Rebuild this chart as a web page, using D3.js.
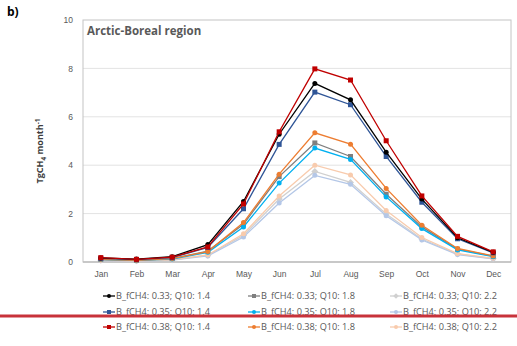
<!DOCTYPE html>
<html>
<head>
<meta charset="utf-8">
<script src="https://cdn.jsdelivr.net/npm/d3@7"></script>
<style>
  html, body { margin: 0; padding: 0; background: #fff; }
  svg { display: block; font-family: "Open Sans", "Liberation Sans", sans-serif; }
</style>
</head>
<body>
<svg id="chart" width="517" height="346"></svg>
<script>
// Monthly methane flux, Arctic-Boreal region
const months = ["Jan","Feb","Mar","Apr","May","Jun","Jul","Aug","Sep","Oct","Nov","Dec"];
const yTicks = [0, 2, 4, 6, 8, 10];

const seriesNames = [
  "B_fCH4: 0.33; Q10: 1.4", "B_fCH4: 0.33; Q10: 1.8", "B_fCH4: 0.33; Q10: 2.2",
  "B_fCH4: 0.35; Q10: 1.4", "B_fCH4: 0.35; Q10: 1.8", "B_fCH4: 0.35; Q10: 2.2",
  "B_fCH4: 0.38; Q10: 1.4", "B_fCH4: 0.38; Q10: 1.8", "B_fCH4: 0.38; Q10: 2.2"
];
const seriesColors = [
  "#000000", "#7f7f7f", "#d0d0d0",
  "#2f5597", "#00b0f0", "#b4c7e7",
  "#c00000", "#ed7d31", "#f8cbad"
];
const seriesMarkers = [
  "circle", "square", "diamond",
  "square", "circle", "circle",
  "square", "circle", "circle"
];

const f033q14 = [0.17, 0.12, 0.22, 0.72, 2.50, 5.28, 7.38, 6.70, 4.54, 2.60, 1.00, 0.40];
const f033q18 = [0.11, 0.07, 0.14, 0.45, 1.56, 3.53, 4.92, 4.36, 2.80, 1.45, 0.53, 0.24];
const f033q22 = [0.07, 0.05, 0.09, 0.28, 1.10, 2.60, 3.74, 3.29, 1.98, 0.95, 0.33, 0.14];
const f035q14 = [0.15, 0.10, 0.18, 0.60, 2.20, 4.86, 7.02, 6.50, 4.36, 2.47, 0.96, 0.38];
const f035q18 = [0.10, 0.07, 0.12, 0.40, 1.45, 3.26, 4.71, 4.24, 2.69, 1.38, 0.50, 0.22];
const f035q22 = [0.06, 0.04, 0.08, 0.25, 1.03, 2.44, 3.58, 3.21, 1.91, 0.91, 0.31, 0.13];
const f038q14 = [0.18, 0.11, 0.20, 0.62, 2.40, 5.38, 7.98, 7.52, 5.01, 2.73, 1.06, 0.42];
const f038q18 = [0.11, 0.07, 0.14, 0.43, 1.63, 3.63, 5.34, 4.87, 3.04, 1.52, 0.56, 0.25];
const f038q22 = [0.07, 0.05, 0.09, 0.29, 1.17, 2.73, 4.00, 3.60, 2.13, 1.01, 0.35, 0.15];

const seriesValues = [f033q14, f033q18, f033q22, f035q14, f035q18, f035q22, f038q14, f038q18, f038q22];
const series = seriesNames.map((name, i) => ({
  name, color: seriesColors[i], marker: seriesMarkers[i], values: seriesValues[i]
}));

const svg = d3.select("#chart");
const plot = { left: 83, right: 511, top: 20, bottom: 262 };

const x = d3.scalePoint().domain(months).range([plot.left + 17.8, plot.right - 17.8]);
const y = d3.scaleLinear().domain([0, 10]).range([plot.bottom, plot.top]);

// Gridlines
svg.append("g").selectAll("line").data(yTicks.filter(t => t > 0 && t < 10)).join("line")
  .attr("x1", plot.left).attr("x2", plot.right)
  .attr("y1", d => y(d)).attr("y2", d => y(d))
  .attr("stroke", "#e3e3e3").attr("stroke-width", 1);

// Plot frame
svg.append("rect")
  .attr("x", plot.left).attr("y", plot.top)
  .attr("width", plot.right - plot.left).attr("height", plot.bottom - plot.top)
  .attr("fill", "none").attr("stroke", "#c4c4c4").attr("stroke-width", 1);

// Axes
const yAxis = d3.axisLeft(y).tickValues(yTicks).tickSize(0).tickPadding(10);
svg.append("g").attr("transform", `translate(${plot.left},0)`).call(yAxis)
  .call(g => g.select(".domain").remove())
  .call(g => g.selectAll("text").attr("fill", "#595959").attr("font-size", "8.5px"));

const xAxis = d3.axisBottom(x).tickSize(0).tickPadding(9);
svg.append("g").attr("transform", `translate(0,${plot.bottom})`).call(xAxis)
  .call(g => g.select(".domain").attr("d", `M${plot.left},0H${plot.right}`).attr("stroke", "#bfbfbf").attr("stroke-width", 1.5))
  .call(g => g.selectAll("text").attr("fill", "#595959").attr("font-size", "8.5px"));

// Series lines and markers (pale ones first so darker lines sit on top)
const drawOrder = [2, 5, 8, 1, 4, 7, 3, 0, 6];
const line = d3.line().x((d, i) => x(months[i])).y(d => y(d));

function drawMarker(g, kind, cx, cy, color, size) {
  if (kind === "square") {
    g.append("rect").attr("x", cx - size / 2).attr("y", cy - size / 2)
      .attr("width", size).attr("height", size).attr("fill", color);
  } else if (kind === "diamond") {
    const s = size * 0.7;
    g.append("path").attr("d", `M${cx},${cy - s}L${cx + s},${cy}L${cx},${cy + s}L${cx - s},${cy}Z`).attr("fill", color);
  } else {
    g.append("circle").attr("cx", cx).attr("cy", cy).attr("r", size / 2).attr("fill", color);
  }
}

const seriesG = svg.append("g");
drawOrder.forEach(i => {
  const s = series[i];
  const g = seriesG.append("g");
  g.append("path").datum(s.values).attr("d", line)
    .attr("fill", "none").attr("stroke", s.color).attr("stroke-width", 1.3);
  s.values.forEach((v, k) => drawMarker(g, s.marker, x(months[k]), y(v), s.color, 5));
});

// Title inside plot area
svg.append("text").attr("x", plot.left + 4).attr("y", plot.top + 15)
  .attr("font-size", "11.5px").attr("font-weight", "bold").attr("fill", "#595959")
  .text("Arctic-Boreal region");

// Panel letter
svg.append("text").attr("x", 7).attr("y", 16)
  .attr("font-size", "12px").attr("font-weight", "bold").attr("fill", "#000")
  .text("b)");

// Y axis label
const yl = svg.append("text")
  .attr("transform", `translate(43,${(plot.top + plot.bottom) / 2 + 10}) rotate(-90)`)
  .attr("text-anchor", "middle").attr("font-size", "9px").attr("font-weight", "bold").attr("fill", "#404040");
yl.append("tspan").text("TgCH");
yl.append("tspan").attr("font-size", "6.5px").attr("dy", 2.5).text("4");
yl.append("tspan").attr("dy", -2.5).text(" month");
yl.append("tspan").attr("font-size", "6.5px").attr("dy", -3).text("-1");

// Legend: three columns by three rows
const legendCols = [103, 248, 390];
const legendRows = [296, 312, 327];
const legend = svg.append("g");
series.forEach((s, i) => {
  const col = i % 3, row = Math.floor(i / 3);
  const lx = legendCols[col], ly = legendRows[row];
  const g = legend.append("g");
  g.append("line").attr("x1", lx).attr("x2", lx + 12).attr("y1", ly).attr("y2", ly)
    .attr("stroke", s.color).attr("stroke-width", 1.3);
  drawMarker(g, s.marker, lx + 6, ly, s.color, 4);
  g.append("text").attr("x", lx + 13).attr("y", ly + 3.2)
    .attr("font-size", "9.2px").attr("fill", "#595959").text(s.name);
});

// Horizontal rule across the lower part of the figure
svg.append("line").attr("x1", 0).attr("x2", 517).attr("y1", 316).attr("y2", 316)
  .attr("stroke", "#c8323a").attr("stroke-width", 3);
</script>
</body>
</html>
